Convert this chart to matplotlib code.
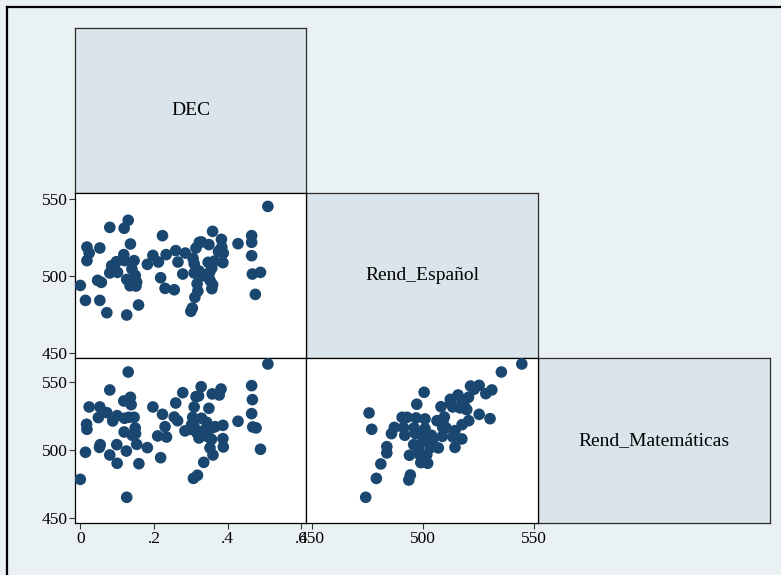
import numpy as np
import matplotlib.pyplot as plt
from matplotlib.lines import Line2D

plt.rcParams['font.family'] = ['Liberation Serif', 'DejaVu Serif']

# DEC vs Rend_Español
dec_a = [.509, .130, .080, .119, .223, .359, .465, .465, .383, .428,
         .018, .053, .024, .136, .018, .118, .146, .120, .098, .085,
         .080, .101, .092, .140, .149, .126, .135, .151, .153, .138,
         .182, .197, .212, .233, .259, .265, .285, .278, .218, .230,
         .255, .306, .314, .323, .329, .349, .309, .309, .322, .334,
         .347, .364, .357, .351, .352, .359, .357, .317, .319, .311,
         .304, .300, .380, .388, .384, .387, .465, .467, .489, .475,
         .000, .047, .057, .014, .053, .072, .126, .158, .375, .340]
esp_a = [545.0, 536.0, 531.4, 530.8, 526.0, 528.8, 526.0, 521.7, 523.6, 520.8,
         518.6, 518.0, 514.7, 520.6, 509.8, 513.7, 509.8, 509.8, 509.1, 506.5,
         501.8, 502.2, 504.8, 504.4, 500.2, 497.6, 493.5, 493.3, 495.9, 496.3,
         507.4, 513.2, 508.9, 513.7, 516.3, 508.9, 514.7, 501.1, 498.7, 491.8,
         490.9, 511.3, 518.0, 521.7, 521.9, 520.2, 507.8, 501.8, 503.1, 500.0,
         508.7, 509.5, 505.0, 502.2, 497.0, 494.2, 491.6, 494.8, 490.1, 486.0,
         479.0, 476.9, 516.9, 514.7, 518.6, 508.5, 513.0, 501.1, 502.2, 487.9,
         493.7, 497.0, 495.7, 484.0, 484.0, 476.0, 474.5, 481.0, 515.8, 500.7]

# DEC vs Rend_Matemáticas
dec_b = [.509, .130, .080, .118, .136, .138, .024, .053, .072, .049,
         .088, .100, .120, .132, .146, .017, .018, .119, .149, .141,
         .150, .054, .052, .099, .125, .080, .014, .100, .159, .153,
         .182, .197, .223, .230, .210, .234, .218, .259, .278, .255,
         .264, .284, .309, .314, .321, .328, .358, .377, .382, .349,
         .305, .308, .329, .343, .298, .316, .322, .346, .356, .357,
         .366, .352, .360, .387, .387, .388, .335, .307, .318, .428,
         .465, .467, .465, .468, .477, .489, .000, .126, .329, .302]
mat_b = [563.0, 557.1, 543.9, 535.8, 538.5, 533.1, 531.4, 531.4, 527.2, 523.6,
         521.1, 525.0, 523.1, 523.8, 523.8, 518.7, 515.0, 513.0, 516.0, 510.6,
         511.8, 503.7, 501.7, 503.7, 499.0, 496.1, 498.1, 490.0, 489.7, 503.9,
         501.5, 531.4, 526.0, 516.9, 510.1, 509.3, 494.1, 534.3, 541.9, 524.0,
         521.3, 513.8, 531.4, 539.0, 539.5, 546.3, 541.0, 540.2, 544.6, 530.4,
         523.8, 517.7, 523.1, 520.1, 515.0, 512.5, 508.6, 509.6, 507.6, 516.0,
         516.9, 501.3, 496.1, 517.9, 508.1, 502.0, 490.7, 478.9, 481.2, 520.9,
         547.1, 536.8, 526.5, 516.7, 516.0, 500.3, 478.2, 465.0, 513.5, 518.4]

# Rend_Español vs Rend_Matemáticas
esp_c = [544.6, 535.4, 521.5, 525.4, 523.1, 531.1, 528.4, 500.6, 515.9, 512.4,
         520.6, 517.7, 518.6, 513.5, 497.3, 508.2, 475.8, 525.4, 530.3, 519.8,
         520.7, 517.7, 509.7, 506.4, 501.0, 497.0, 492.9, 490.7, 477.0, 487.2,
         485.9, 491.3, 491.9, 496.1, 496.7, 501.0, 500.3, 503.9, 509.0, 508.8,
         513.6, 514.5, 517.6, 514.5, 507.0, 504.5, 503.3, 501.8, 498.8, 498.0,
         495.9, 494.0, 499.1, 502.2, 483.8, 483.8, 481.1, 479.1, 494.4, 493.7,
         474.3, 509.1, 512.6, 516.8, 503.7, 500.0, 510.5]
mat_c = [563.0, 557.1, 546.8, 547.3, 544.4, 543.9, 541.2, 542.2, 540.2, 537.0,
         538.5, 536.1, 532.6, 531.4, 533.4, 531.6, 527.0, 526.0, 522.8, 529.4,
         521.3, 518.4, 524.0, 521.3, 522.6, 523.3, 523.8, 523.8, 515.0, 516.4,
         511.8, 516.2, 510.6, 516.0, 511.8, 515.5, 512.0, 510.6, 516.4, 509.8,
         509.3, 514.0, 507.9, 501.7, 501.3, 507.4, 501.3, 496.3, 495.9, 500.8,
         503.7, 495.9, 490.5, 490.0, 502.2, 497.6, 489.5, 478.9, 481.4, 477.7,
         465.0, 520.9, 534.1, 530.7, 504.2, 506.2, 516.0]

names = ['DEC', 'Rend_Español', 'Rend_Matemáticas']
dec_ticks = [0, .2, .4, .6]
dec_labels = ['0', '.2', '.4', '.6']
score_ticks = [450, 500, 550]

bg = '#eaf1f3'
box = '#d9e5eb'
navy = '#1a476f'

W, H = 781, 575
fig = plt.figure(figsize=(W / 100, H / 100), dpi=100, facecolor=bg)

cols = [(75, 306), (306, 538), (538, 770)]
rows = [(28, 193), (193, 358), (358, 523)]
xlims = [(-0.0144, 0.6125), (447.4, 551.9), None]
ylims = [None, (446.6, 553.7), (446.1, 567.4)]


def make_ax(r, c):
    x0, x1 = cols[c]
    y0, y1 = rows[r]
    ax = fig.add_axes([x0 / W, 1 - y1 / H, (x1 - x0) / W, (y1 - y0) / H])
    for s in ax.spines.values():
        s.set_color('black')
        s.set_linewidth(0.9)
    ax.tick_params(length=4, width=0.8, color='#333333', labelsize=12.5,
                   pad=1.5, labelcolor='black')
    ax.set_xticks([])
    ax.set_yticks([])
    return ax


# diagonal name boxes
for i, name in enumerate(names):
    ax = make_ax(i, i)
    ax.set_facecolor(box)
    for s in ax.spines.values():
        s.set_color('#2b2b2b')
    ax.text(0.5, 0.5, name, ha='center', va='center', fontsize=14,
            transform=ax.transAxes)

pairs = [((1, 0), dec_a, esp_a), ((2, 0), dec_b, mat_b), ((2, 1), esp_c, mat_c)]
for (r, c), xs, ys in pairs:
    ax = make_ax(r, c)
    ax.set_facecolor('white')
    ax.scatter(xs, ys, s=70, color=navy, edgecolors='none', zorder=3)
    ax.set_xlim(*xlims[c])
    ax.set_ylim(*ylims[r])
    if c == 0:
        ax.set_yticks(score_ticks)
        ax.set_yticklabels([str(t) for t in score_ticks])
    if r == 2:
        if c == 0:
            ax.set_xticks(dec_ticks)
            ax.set_xticklabels(dec_labels)
        else:
            ax.set_xticks(score_ticks)
            ax.set_xticklabels([str(t) for t in score_ticks])

# outer frame lines
fig.add_artist(Line2D([7 / W, 7 / W], [0, 1 - 6.5 / H], transform=fig.transFigure,
                      color='black', lw=1.6))
fig.add_artist(Line2D([7 / W, 1], [1 - 6.5 / H, 1 - 6.5 / H], transform=fig.transFigure,
                      color='black', lw=1.6))

fig.savefig('out.png', dpi=100, facecolor=bg)
